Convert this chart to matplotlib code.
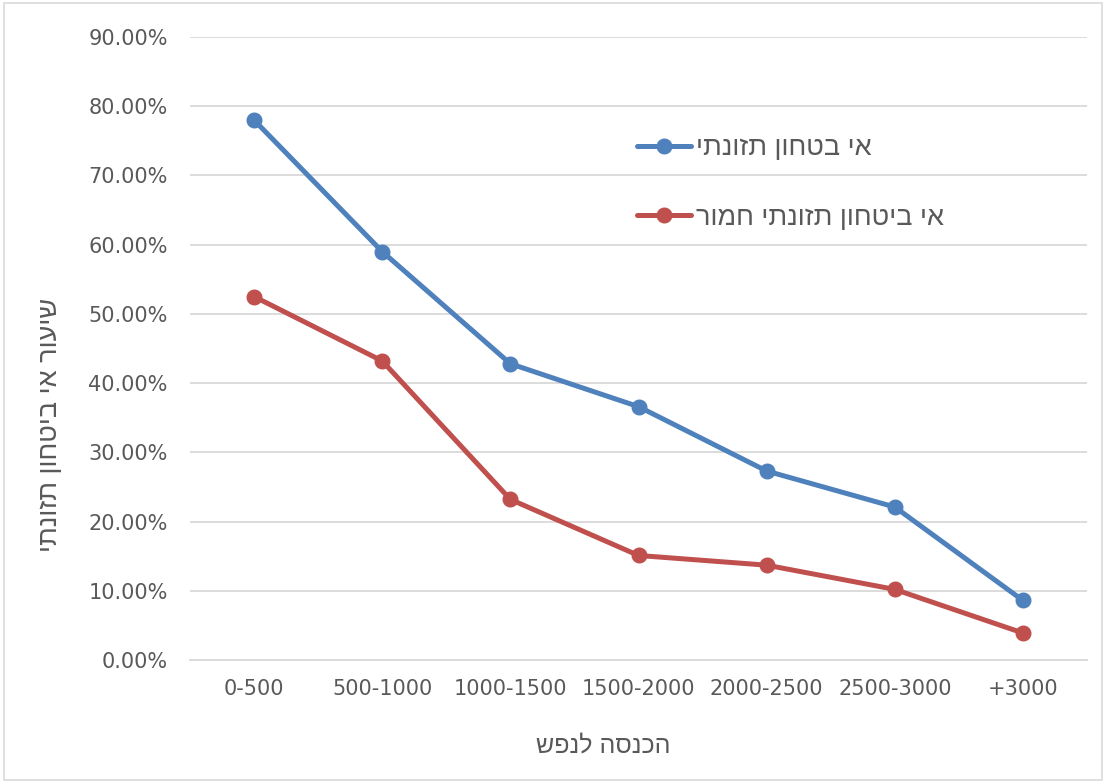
import matplotlib.pyplot as plt
from matplotlib.patches import Rectangle
from matplotlib.ticker import FuncFormatter

# Income brackets and food insecurity rates
categories = ["0-500", "500-1000", "1000-1500", "1500-2000", "2000-2500", "2500-3000", "+3000"]
insecure = [0.780, 0.590, 0.428, 0.366, 0.273, 0.221, 0.086]
severe = [0.525, 0.432, 0.232, 0.151, 0.137, 0.102, 0.039]

label_insecure = "אי בטחון תזונתי"
label_severe = "אי ביטחון תזונתי חמור"
ylabel = "שיעור אי ביטחון תזונתי"
xlabel = "הכנסה לנפש"


def rtl(s):
    # matplotlib lays glyphs out left to right, so flip Hebrew strings
    return s[::-1]


plt.rcParams['font.family'] = ['DejaVu Sans']
heb_font = ['Liberation Sans', 'DejaVu Sans']
text_color = "#595959"
grid_color = "#D9D9D9"

fig = plt.figure(figsize=(11.06, 7.83), dpi=100)
ax = fig.add_axes([190/1106, 1-660/783, (1087-190)/1106, (660-37)/783])

x = range(len(categories))
ax.plot(x, insecure, color="#4F81BD", lw=3.6, marker='o', markersize=10.5,
        label=rtl(label_insecure), solid_capstyle='round')
ax.plot(x, severe, color="#C0504D", lw=3.6, marker='o', markersize=10.5,
        label=rtl(label_severe), solid_capstyle='round')

ax.set_xlim(-0.5, len(categories) - 0.5)
ax.set_ylim(0, 0.9)
ax.set_yticks([i / 10 for i in range(10)])
ax.yaxis.set_major_formatter(FuncFormatter(lambda v, p: f"{v*100:.2f}%"))
ax.set_xticks(list(x))
ax.set_xticklabels(categories)
ax.tick_params(length=0, labelsize=15, colors=text_color, pad=14)
ax.tick_params(axis='y', pad=16)
ax.yaxis.grid(True, color=grid_color, lw=1.3)
ax.set_axisbelow(True)
for side in ['top', 'right', 'left']:
    ax.spines[side].set_visible(False)
ax.spines['bottom'].set_color(grid_color)
ax.spines['bottom'].set_linewidth(1.3)

leg = ax.legend(loc='upper left', bbox_to_anchor=(0.498, 0.842), frameon=False,
                prop={'family': heb_font, 'size': 19.5}, handlelength=2.0,
                labelspacing=1.6, handletextpad=0.19, borderpad=0, borderaxespad=0)
for t in leg.get_texts():
    t.set_color(text_color)

fig.text(50/1106, 1-425/783, rtl(ylabel), rotation=90, ha='center', va='center',
         fontsize=19.5, color=text_color, family=heb_font)
fig.text(603/1106, 1-745/783, rtl(xlabel), ha='center', va='center',
         fontsize=18, color=text_color, family=heb_font)

fig.patches.append(Rectangle((0.004, 0.004), 0.992, 0.992, transform=fig.transFigure,
                             fill=False, edgecolor="#D9D9D9", lw=1.2))

fig.savefig("out.png", dpi=100, facecolor="white")
